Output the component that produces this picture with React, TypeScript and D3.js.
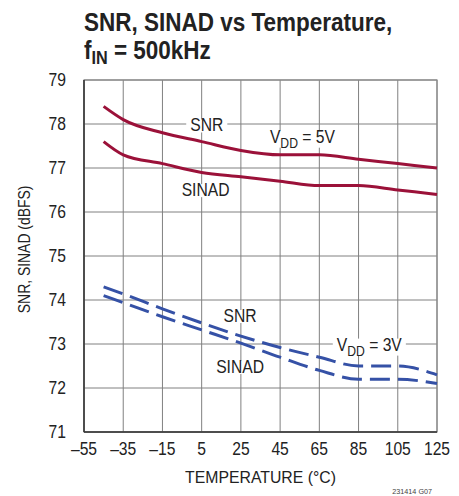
import React, { useEffect, useRef } from 'react';
import * as d3 from 'd3';

// temperature points (°C)
const temps = [-45, -35, -15, 5, 25, 45, 65, 85, 105, 125];

// V_DD = 5V
const snr5 = [78.4, 78.1, 77.8, 77.6, 77.4, 77.3, 77.3, 77.2, 77.1, 77.0];
const sinad5 = [77.6, 77.3, 77.1, 76.9, 76.8, 76.7, 76.6, 76.6, 76.5, 76.4];

// V_DD = 3V
const snr3 = [74.3, 74.14, 73.8, 73.48, 73.18, 72.92, 72.7, 72.5, 72.5, 72.3];
const sinad3 = [74.1, 73.94, 73.62, 73.32, 73.02, 72.7, 72.4, 72.2, 72.2, 72.1];

const xTicks = [-55, -35, -15, 5, 25, 45, 65, 85, 105, 125];
const yTicks = [71, 72, 73, 74, 75, 76, 77, 78, 79];

// curve labels, placed in data units (temperature, dBFS baseline)
const labels = [
  { t: 7.6, v: 77.83, text: 'SNR' },
  { t: 7.0, v: 76.36, text: 'SINAD' },
  { t: 24.6, v: 73.5, text: 'SNR' },
  { t: 24.6, v: 72.34, text: 'SINAD' },
];
const vddLabels = [
  { t: 39.8, v: 77.575, volts: '5V' },
  { t: 73.9, v: 72.85, volts: '3V' },
];

const RED = '#9b1139';
const BLUE = '#3551a6';
const FONT = '"Liberation Sans Narrow", "Arial Narrow", "Liberation Sans", Arial, sans-serif';

// squeeze a text horizontally around its anchor x (no narrow font installed)
const condense = (sel: any, f: number) => {
  const ax = +sel.attr('x') || 0;
  sel.attr('transform', `translate(${ax * (1 - f)},0) scale(${f},1)`);
  return sel;
};

const App = () => {
  const svgRef = useRef<SVGSVGElement>(null);

  useEffect(() => {
    const W = 459;
    const H = 496;
    const margin = { top: 80, right: 22, bottom: 64, left: 84 };
    const width = W - margin.left - margin.right;
    const height = H - margin.top - margin.bottom;

    const root = d3.select(svgRef.current);
    root.selectAll('*').remove();
    root.attr('width', W).attr('height', H).style('font-family', FONT);

    root.append('rect').attr('width', W).attr('height', H).attr('fill', '#fff');

    // Title
    const title = root.append('text')
      .attr('x', 84).attr('y', 31)
      .attr('font-size', 25).attr('font-weight', 'bold').attr('fill', '#222')
      .text('SNR, SINAD vs Temperature,');
    condense(title, 0.9);
    const t2 = root.append('text')
      .attr('x', 84).attr('y', 59)
      .attr('font-size', 25).attr('font-weight', 'bold').attr('fill', '#222');
    t2.append('tspan').text('f');
    t2.append('tspan').attr('font-size', 18).attr('dy', 5).text('IN');
    t2.append('tspan').attr('dy', -5).text(' = 500kHz');
    condense(t2, 0.9);

    const svg = root.append('g')
      .attr('transform', `translate(${margin.left},${margin.top})`);

    const x = d3.scaleLinear().domain([-55, 125]).range([0, width]);
    const y = d3.scaleLinear().domain([71, 79]).range([height, 0]);

    // Grid
    svg.append('g').selectAll('line').data(xTicks).join('line')
      .attr('x1', d => x(d)).attr('x2', d => x(d))
      .attr('y1', 0).attr('y2', height)
      .attr('stroke', '#808080').attr('stroke-width', 1);
    svg.append('g').selectAll('line').data(yTicks).join('line')
      .attr('x1', 0).attr('x2', width)
      .attr('y1', d => y(d)).attr('y2', d => y(d))
      .attr('stroke', '#808080').attr('stroke-width', 1);

    // Frame
    svg.append('rect')
      .attr('width', width).attr('height', height)
      .attr('fill', 'none').attr('stroke', '#8a8a8a').attr('stroke-width', 1.2);
    svg.append('line').attr('x1', 0).attr('x2', 0).attr('y1', 0).attr('y2', height)
      .attr('stroke', '#333').attr('stroke-width', 1.5);
    svg.append('line').attr('x1', 0).attr('x2', width).attr('y1', height).attr('y2', height)
      .attr('stroke', '#333').attr('stroke-width', 1.5);

    // Tick labels
    svg.append('g').selectAll('text').data(yTicks).join('text')
      .attr('x', -18).attr('y', d => y(d) + 6)
      .attr('text-anchor', 'end').attr('font-size', 18).attr('fill', '#222')
      .text(d => d)
      .each(function () { condense(d3.select(this), 0.87); });
    svg.append('g').selectAll('text').data(xTicks).join('text')
      .attr('x', d => x(d)).attr('y', height + 23)
      .attr('text-anchor', 'middle').attr('font-size', 18).attr('fill', '#222')
      .text(d => (d < 0 ? '\u2013' + Math.abs(d) : d))
      .each(function () { condense(d3.select(this), 0.87); });

    // Axis titles
    const xt = svg.append('text')
      .attr('x', x(35)).attr('y', height + 51)
      .attr('text-anchor', 'middle').attr('font-size', 17).attr('fill', '#222')
      .text('TEMPERATURE (°C)');
    condense(xt, 0.93);
    svg.append('text')
      .attr('transform', `translate(${-54},${y(75.15)}) rotate(-90) scale(0.87,1)`)
      .attr('text-anchor', 'middle').attr('font-size', 16).attr('fill', '#222')
      .text('SNR, SINAD (dBFS)');

    // Curves
    const line = d3.line<[number, number]>()
      .x(d => x(d[0])).y(d => y(d[1]))
      .curve(d3.curveMonotoneX);

    const series = [
      { vals: snr5, color: RED, dash: null },
      { vals: sinad5, color: RED, dash: null },
      { vals: snr3, color: BLUE, dash: '20,8' },
      { vals: sinad3, color: BLUE, dash: '20,8' },
    ];
    series.forEach(s => {
      svg.append('path')
        .datum(temps.map((t, i) => [t, s.vals[i]] as [number, number]))
        .attr('fill', 'none')
        .attr('stroke', s.color)
        .attr('stroke-width', 3)
        .attr('stroke-dasharray', s.dash)
        .attr('d', line);
    });

    // Curve labels with white backgrounds behind them
    const addBox = (g: any, f: number) => {
      const node = g.node() as SVGTextElement;
      const bb = node.getBBox();
      const ax = +g.attr('x');
      const x0 = ax + (bb.x - ax) * f;
      svg.insert('rect', () => node)
        .attr('x', x0 - 4).attr('y', bb.y + 4)
        .attr('width', bb.width * f + 8).attr('height', bb.height - 7)
        .attr('fill', '#fff');
    };

    labels.forEach(l => {
      const g = svg.append('text')
        .attr('x', x(l.t)).attr('y', y(l.v))
        .attr('text-anchor', 'middle').attr('font-size', 18).attr('fill', '#222')
        .text(l.text);
      addBox(g, 0.87);
      condense(g, 0.87);
    });
    vddLabels.forEach(l => {
      const g = svg.append('text')
        .attr('x', x(l.t)).attr('y', y(l.v))
        .attr('font-size', 18).attr('fill', '#222');
      g.append('tspan').text('V');
      g.append('tspan').attr('font-size', 14).attr('dy', 5).text('DD');
      g.append('tspan').attr('dy', -5).text(' = ' + l.volts);
      addBox(g, 0.87);
      condense(g, 0.87);
    });

    // Figure code
    const code = root.append('text')
      .attr('x', 432).attr('y', 494)
      .attr('text-anchor', 'end').attr('font-size', 8).attr('fill', '#444')
      .text('231414 G07');
    condense(code, 0.9);
  }, []);

  return (
    <svg ref={svgRef} style={{ position: 'absolute', left: 0, top: 0, display: 'block' }} />
  );
};

export default App;
